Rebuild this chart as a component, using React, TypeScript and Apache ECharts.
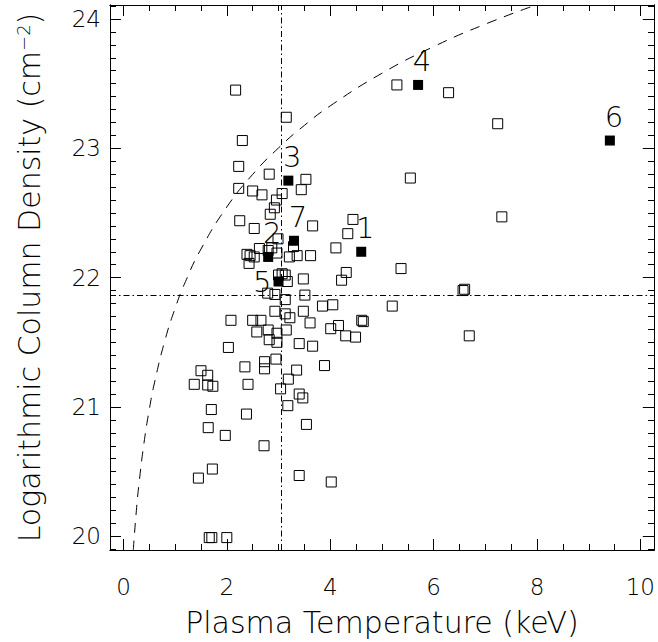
import React, { useEffect, useRef } from "react";
import * as echarts from "echarts";

// Open squares: plasma temperature (keV) and log column density
const openT = [
  5.29, 6.29, 7.24, 5.55, 7.32, 5.37, 6.6, 6.57, 5.2, 6.69,
  3.53, 3.44, 3.66, 4.44, 4.34, 4.11, 3.36, 3.62, 4.31, 4.22,
  3.48, 3.51, 3.85, 4.05, 3.48, 3.61, 4.61, 4.64, 4.01, 4.16,
  4.3, 4.49, 3.4, 3.66, 3.89, 3.35, 3.4, 3.47, 3.54, 3.4, 4.02,
  2.17, 3.15, 2.3, 2.23, 2.82, 2.23, 2.5, 2.68, 3.07, 2.96,
  2.92, 2.84, 2.25, 2.53, 2.99, 3.29, 2.39, 2.45, 2.53, 2.43,
  2.63, 2.8, 2.87, 3.21, 2.97,
  3.0, 3.07, 3.13, 3.17, 2.79, 2.93, 3.13, 2.93, 3.13, 3.22,
  2.08, 2.5, 2.66, 2.58, 2.8, 2.97, 3.15, 2.82, 2.97, 2.03,
  2.95, 2.73, 2.73, 2.35, 1.5, 1.63, 1.37, 1.63, 1.73, 2.41,
  3.19, 3.04, 3.18, 1.7, 2.38, 1.64, 1.97, 2.72, 1.72, 1.45,
  1.66, 1.71, 2.0,
];
const openNH = [
  23.49, 23.43, 23.19, 22.77, 22.47, 22.07, 21.91, 21.9, 21.78, 21.55,
  22.76, 22.68, 22.4, 22.45, 22.34, 22.23, 22.17, 22.17, 22.04, 21.98,
  21.99, 21.865, 21.78, 21.79, 21.74, 21.65, 21.67, 21.66, 21.605, 21.63,
  21.55, 21.54, 21.49, 21.47, 21.32, 21.285, 21.1, 21.07, 20.865, 20.47, 20.42,
  23.45, 23.24, 23.06, 22.86, 22.8, 22.69, 22.67, 22.64, 22.65, 22.6,
  22.54, 22.49, 22.44, 22.38, 22.3, 22.24, 22.18, 22.17, 22.16, 22.11,
  22.225, 22.21, 22.23, 22.16, 22.19,
  22.02, 22.03, 22.02, 21.97, 21.88, 21.87, 21.83, 21.74, 21.72, 21.69,
  21.67, 21.67, 21.67, 21.58, 21.595, 21.57, 21.595, 21.52, 21.5, 21.46,
  21.37, 21.35, 21.295, 21.31, 21.28, 21.245, 21.175, 21.17, 21.16, 21.175,
  21.215, 21.14, 21.01, 20.98, 20.945, 20.84, 20.78, 20.7, 20.52, 20.45,
  19.99, 19.99, 19.99,
];

// Filled (numbered) sources
const srcLabels = ["1", "2", "3", "4", "5", "6", "7"];
const srcT = [4.6, 2.8, 3.19, 5.7, 3.0, 9.41, 3.3];
const srcNH = [22.2, 22.16, 22.75, 23.49, 21.97, 23.06, 22.285];

// Dashed curve
const curveT = [0.19, 0.2, 0.25, 0.3, 0.4, 0.5, 0.6, 0.8, 1.0, 1.2, 1.5, 2.0, 2.5, 3.0, 3.5, 4.0, 5.0, 6.0, 7.0, 8.0];
const curveNH = [19.888, 19.946, 20.198, 20.403, 20.728, 20.98, 21.186, 21.511, 21.763, 21.969, 22.221, 22.546, 22.798, 23.003, 23.177, 23.328, 23.58, 23.786, 23.96, 24.111];

// Dash-dot reference lines
const tempCut = 3.06;
const nhCut = 21.865;

// Tick labels
const xTickLabels = [0, 2, 4, 6, 8, 10];
const yTickLabels = [20, 21, 22, 23, 24];

const X_MIN = -0.26;
const X_MAX = 10.26;
const Y_MIN = 19.894;
const Y_MAX = 24.108;

const FONT = "DejaVu Sans";
const WEIGHT = 200;

function range(a: number, b: number, step: number) {
  const out: number[] = [];
  for (let i = 0; a + i * step <= b + 1e-9; i++) out.push(Math.round((a + i * step) * 1000) / 1000);
  return out;
}
const xMinor = range(0, 10, 0.5);
const yMinor = range(19.9, 24.1, 0.1);

export default function App() {
  const ref = useRef<HTMLDivElement>(null);
  useEffect(() => {
    if (!ref.current) return;
    const chart = echarts.init(ref.current, undefined, { renderer: "svg" });
    const black = "#000";
    const lineStyle = { color: black, width: 1 };
    const gridRect = { left: 110, right: 4, top: 5, bottom: 92 };
    const txt = { color: black, fontFamily: FONT, fontWeight: WEIGHT };

    const xAx = (grid: number, pos: string, ticks: number[], len: number, labels: boolean, extra: any = {}) => ({
      type: "value",
      gridIndex: grid,
      position: pos,
      min: X_MIN,
      max: X_MAX,
      splitLine: { show: false },
      axisLine: { show: true, onZero: false, lineStyle },
      axisTick: { show: true, inside: true, length: len, customValues: ticks, lineStyle },
      axisLabel: labels
        ? { show: true, customValues: ticks, margin: 25, fontSize: 23, ...txt }
        : { show: false },
      ...extra,
    });
    const yAx = (grid: number, pos: string, ticks: number[], len: number, labels: boolean, extra: any = {}) => ({
      type: "value",
      gridIndex: grid,
      position: pos,
      min: Y_MIN,
      max: Y_MAX,
      splitLine: { show: false },
      axisLine: { show: true, onZero: false, lineStyle },
      axisTick: { show: true, inside: true, length: len, customValues: ticks, lineStyle },
      axisLabel: labels
        ? { show: true, customValues: ticks, margin: 9, fontSize: 23, ...txt }
        : { show: false },
      ...extra,
    });

    const option: any = {
      animation: false,
      backgroundColor: "#fff",
      textStyle: { fontFamily: FONT, fontWeight: WEIGHT },
      grid: [
        { ...gridRect, containLabel: false },
        { ...gridRect, containLabel: false },
      ],
      xAxis: [
        xAx(0, "bottom", xTickLabels, 11, true, {
          name: "Plasma Temperature (keV)",
          nameLocation: "middle",
          nameGap: 57,
          nameTextStyle: { fontSize: 30, ...txt },
        }),
        xAx(0, "top", xTickLabels, 11, false),
        xAx(1, "bottom", xMinor, 6, false),
        xAx(1, "top", xMinor, 6, false),
      ],
      yAxis: [
        yAx(0, "left", yTickLabels, 11, true, {
          name: "Logarithmic Column Density (cm{sup|\u22122})",
          nameLocation: "middle",
          nameGap: 66,
          nameRotate: 90,
          nameTextStyle: {
            fontSize: 30,
            ...txt,
            rich: { sup: { fontSize: 18, verticalAlign: "top", ...txt } },
          },
        }),
        yAx(0, "right", yTickLabels, 11, false),
        yAx(1, "left", yMinor, 6, false),
        yAx(1, "right", yMinor, 6, false),
      ],
      series: [
        {
          type: "line",
          xAxisIndex: 0,
          yAxisIndex: 0,
          data: curveT.map((t, i) => [t, curveNH[i]]),
          smooth: true,
          showSymbol: false,
          symbol: "none",
          clip: true,
          silent: true,
          lineStyle: { color: black, width: 1, type: [10, 8] },
          markLine: {
            silent: true,
            symbol: ["none", "none"],
            label: { show: false },
            lineStyle: { color: black, width: 1, type: [6, 3, 1.5, 3] },
            data: [{ xAxis: tempCut }, { yAxis: nhCut }],
          },
        },
        {
          type: "scatter",
          xAxisIndex: 0,
          yAxisIndex: 0,
          symbol: "rect",
          symbolSize: 10,
          silent: true,
          itemStyle: { color: "rgba(0,0,0,0)", borderColor: black, borderWidth: 1, opacity: 1 },
          data: openT.map((t, i) => [t, openNH[i]]),
        },
        {
          type: "scatter",
          xAxisIndex: 0,
          yAxisIndex: 0,
          symbol: "rect",
          symbolSize: 10,
          silent: true,
          itemStyle: { color: black, opacity: 1 },
          label: {
            show: true,
            formatter: "{b}",
            position: "top",
            distance: 4,
            offset: [4, 0],
            fontSize: 29,
            ...txt,
          },
          data: srcT.map((t, i) => ({
            name: srcLabels[i],
            value: [t, srcNH[i]],
            ...(srcLabels[i] === "5" ? { label: { position: "left", distance: 2, offset: [0, 0] } } : {}),
          })),
        },
      ],
    };
    chart.setOption(option);
    return () => chart.dispose();
  }, []);
  return <div ref={ref} style={{ position: "absolute", left: 0, top: 0, width: 658, height: 642 }} />;
}
